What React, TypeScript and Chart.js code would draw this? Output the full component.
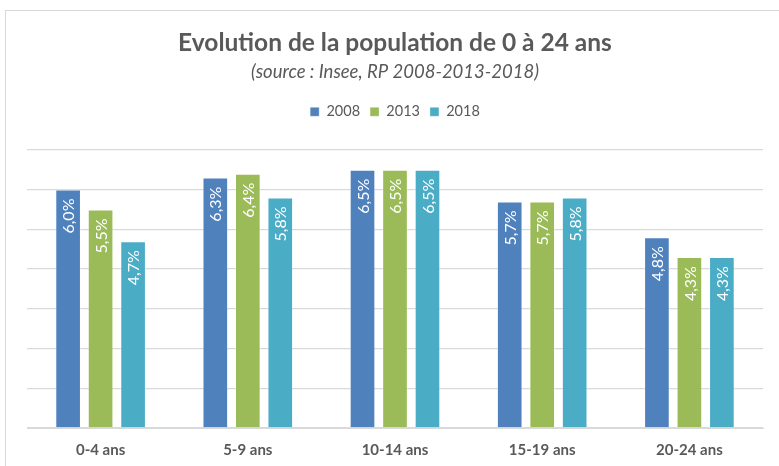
import React, { useEffect, useRef } from "react";
import { Chart, registerables } from "chart.js";

Chart.register(...registerables);

const categories = ["0-4 ans", "5-9 ans", "10-14 ans", "15-19 ans", "20-24 ans"];
const seriesNames = ["2008", "2013", "2018"];
const values2008 = [6.0, 6.3, 6.5, 5.7, 4.8];
const values2013 = [5.5, 6.4, 6.5, 5.7, 4.3];
const values2018 = [4.7, 5.8, 6.5, 5.8, 4.3];
const seriesColors = ["#4F81BD", "#9BBB59", "#4BACC6"];
const titleText = "Evolution de la population de 0 à 24 ans";
const subtitleText = "(source : Insee, RP 2008-2013-2018)";

const TEXT = "#595959";
const FONT = "Lato, 'Open Sans', sans-serif";

const barLabels = {
  id: "barLabels",
  afterDatasetsDraw(chart: any) {
    const ctx = chart.ctx;
    chart.data.datasets.forEach((ds: any, i: number) => {
      const meta = chart.getDatasetMeta(i);
      meta.data.forEach((bar: any, j: number) => {
        const v = ds.data[j] as number;
        const text = v.toFixed(1).replace(".", ",") + "%";
        ctx.save();
        ctx.translate(bar.x, bar.y + 9);
        ctx.rotate(-Math.PI / 2);
        ctx.textAlign = "right";
        ctx.textBaseline = "middle";
        ctx.fillStyle = "#ffffff";
        ctx.font = `16px ${FONT}`;
        ctx.fillText(text, 0, 1);
        ctx.restore();
      });
    });
  },
};

const legendSpacer = {
  id: "legendSpacer",
  beforeLayout(chart: any) {
    const legend = chart.legend;
    if (legend && !legend.__spaced) {
      const origFit = legend.fit;
      legend.fit = function () {
        origFit.call(this);
        this.height += 20.75;
      };
      legend.__spaced = true;
    }
  },
};

export default function App() {
  const ref = useRef<HTMLCanvasElement>(null);

  useEffect(() => {
    if (!ref.current) return;
    const allValues = [values2008, values2013, values2018];
    const chart = new Chart(ref.current, {
      type: "bar",
      data: {
        labels: categories,
        datasets: seriesNames.map((name, i) => ({
          label: name,
          data: allValues[i],
          backgroundColor: seriesColors[i],
          borderColor: "rgba(255,255,255,0.35)",
          borderWidth: 1,
          categoryPercentage: 0.662,
          barPercentage: 0.79,
        })),
      },
      options: {
        animation: false,
        responsive: false,
        maintainAspectRatio: false,
        layout: { padding: { left: 27, right: 16, top: 0, bottom: 0 } },
        plugins: {
          title: {
            display: true,
            text: titleText,
            color: TEXT,
            font: { family: FONT, size: 24.5, weight: "bold" },
            padding: { top: 28.2, bottom: 3 },
          },
          subtitle: {
            display: true,
            text: subtitleText,
            color: TEXT,
            font: { family: FONT, size: 18.5, style: "italic" },
            padding: { top: 0, bottom: 11.75 },
          },
          legend: {
            display: true,
            position: "top",
            labels: {
              boxWidth: 9,
              boxHeight: 9,
              padding: 10,
              color: TEXT,
              font: { family: FONT, size: 14.5 },
            },
          },
          tooltip: { enabled: false },
        },
        scales: {
          x: {
            grid: { display: false, drawTicks: false },
            border: { display: true, color: "#D9D9D9", width: 1 },
            ticks: {
              color: TEXT,
              font: { family: FONT, size: 15, weight: "bold" },
              padding: 13,
            },
          },
          y: {
            min: 0,
            max: 7,
            ticks: { display: false, stepSize: 1 },
            grid: { color: "#D9D9D9", lineWidth: 1.3, drawTicks: false },
            border: { display: false },
          },
        },
      },
      plugins: [barLabels, legendSpacer],
    });
    return () => chart.destroy();
  }, []);

  return (
    <div
      style={{
        position: "fixed",
        left: 0,
        top: 0,
        width: 779,
        height: 466,
        overflow: "hidden",
        background: "#fff",
      }}
    >
      <div
        style={{
          position: "absolute",
          left: 5,
          top: 10,
          width: 820,
          height: 520,
          border: "1.5px solid #D9D9D9",
          boxSizing: "border-box",
        }}
      />
      <canvas
        ref={ref}
        width={779}
        height={472}
        style={{ position: "absolute", left: 0, top: 0, width: 779, height: 472 }}
      />
    </div>
  );
}
